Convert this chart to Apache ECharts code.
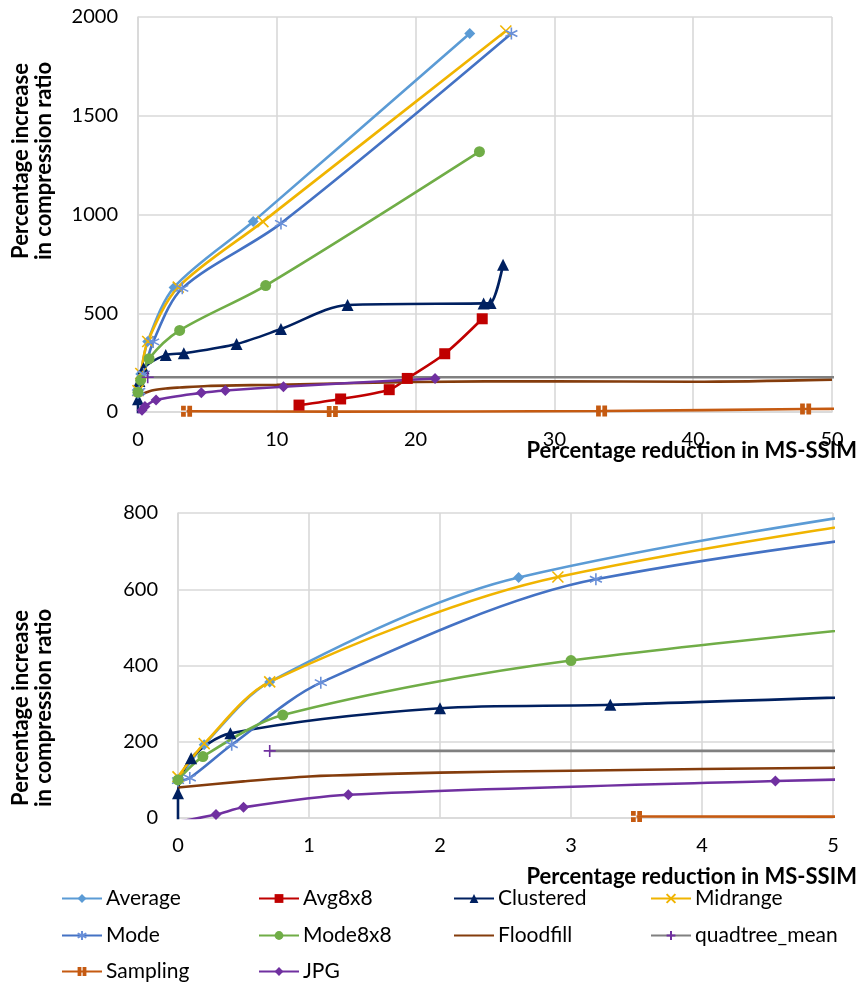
<!DOCTYPE html>
<html>
<head>
<meta charset="utf-8">
<script src="https://cdn.jsdelivr.net/npm/echarts@6/dist/echarts.min.js"></script>
<style>
  html, body { margin: 0; padding: 0; background: #fff; }
  #chart { width: 859px; height: 986px; }
</style>
</head>
<body>
<div id="chart"></div>
<script>
// ---- Data ----
const seriesNames = ['Average', 'Avg8x8', 'Clustered', 'Midrange', 'Mode', 'Mode8x8', 'Floodfill', 'quadtree_mean', 'Sampling', 'JPG'];

const averageX   = [0, 0.2, 0.7, 2.6, 8.3, 23.9];
const averageY   = [100, 192, 357, 631, 964, 1916];
const avg8x8X    = [11.6, 14.6, 18.1, 19.4, 22.1, 24.8];
const avg8x8Y    = [35, 66, 113, 170, 295, 472];
const clusteredX = [0, 0, 0.1, 0.4, 2.0, 3.3, 7.1, 10.3, 15.1, 24.9, 25.4, 26.3];
const clusteredY = [-40, 65, 157, 222, 288, 297, 344, 420, 542, 550, 552, 745];
const midrangeX  = [0, 0.2, 0.7, 2.9, 9.0, 26.5];
const midrangeY  = [108, 195, 357, 632, 964, 1929];
const modeX      = [0, 0.09, 0.41, 1.09, 3.19, 10.3, 26.9];
const modeY      = [98, 105, 192, 355, 626, 955, 1916];
const mode8x8X   = [0, 0.19, 0.8, 3.0, 9.2, 24.6];
const mode8x8Y   = [100, 161, 270, 413, 640, 1318];
const floodfillX = [0, 0.5, 1, 2, 3, 5, 10, 20, 30, 40, 50];
const floodfillY = [80, 96, 109, 119, 124, 132, 138, 152, 156, 153, 164];
const quadtreeX  = [0.7, 52];
const quadtreeY  = [176, 176];
const samplingX  = [3.5, 14.0, 33.4, 48.1, 52];
const samplingY  = [4, 2, 5, 15, 17];
const jpgX       = [0, 0.29, 0.5, 1.3, 4.56, 6.29, 10.48, 21.4];
const jpgY       = [-10, 9, 28, 61, 97, 109, 128, 170];

const topXTicks = { min: 0, max: 50, interval: 10 };
const topYTicks = { min: 0, max: 2000, interval: 500 };
const botXTicks = { min: 0, max: 5, interval: 1 };
const botYTicks = { min: 0, max: 800, interval: 200 };

const xTitle = 'Percentage reduction in MS-SSIM';
const yTitle = 'Percentage increase\nin compression ratio';

// ---- Styling ----
const FONT = 'Lato';
const zip = (xs, ys) => xs.map((x, i) => [x, ys[i]]);

const P_X = 'path://M0,0L10,10M10,0L0,10';
const P_STAR = 'path://M5,0L5,10M0.7,2.5L9.3,7.5M0.7,7.5L9.3,2.5';
const P_PLUS = 'path://M5,0L5,10M0,5L10,5';
const P_SAMP = 'path://M0,0h4.3v4.3h-4.3zM5.7,0h4.3v4.3h-4.3zM0,5.7h4.3v4.3h-4.3zM5.7,5.7h4.3v4.3h-4.3z';

const defs = [
  { name: 'Average', xs: averageX, ys: averageY, color: '#5B9BD5', symbol: 'diamond', size: 11 },
  { name: 'Avg8x8', xs: avg8x8X, ys: avg8x8Y, color: '#C00000', symbol: 'rect', size: 11 },
  { name: 'Clustered', xs: clusteredX, ys: clusteredY, color: '#002060', symbol: 'triangle', size: 12 },
  { name: 'Midrange', xs: midrangeX, ys: midrangeY, color: '#F0B400', symbol: P_X, size: 11, stroke: true },
  { name: 'Mode', xs: modeX, ys: modeY, color: '#4472C4', symbol: P_STAR, size: 12, stroke: true, mcolor: '#6A90D8' },
  { name: 'Mode8x8', xs: mode8x8X, ys: mode8x8Y, color: '#70AD47', symbol: 'circle', size: 11 },
  { name: 'Floodfill', xs: floodfillX, ys: floodfillY, color: '#843C0C', symbol: 'none', size: 0 },
  { name: 'quadtree_mean', xs: quadtreeX, ys: quadtreeY, color: '#808080', symbol: P_PLUS, size: 12, stroke: true, mcolor: '#7030A0', smooth: false },
  { name: 'Sampling', xs: samplingX, ys: samplingY, color: '#C55A11', symbol: P_SAMP, size: 11 },
  { name: 'JPG', xs: jpgX, ys: jpgY, color: '#7030A0', symbol: 'diamond', size: 11 }
];

function makeSeries(d, axisIndex) {
  const mc = d.mcolor || d.color;
  return {
    name: d.name,
    type: 'line',
    xAxisIndex: axisIndex,
    yAxisIndex: axisIndex,
    data: zip(d.xs, d.ys),
    smooth: d.smooth === false ? false : 0.3,
    clip: true,
    symbol: d.symbol,
    symbolSize: d.size,
    showSymbol: d.symbol !== 'none',
    lineStyle: { color: d.color, width: 2.6 },
    itemStyle: d.stroke
      ? { color: mc, borderColor: mc, borderWidth: 1.6 }
      : { color: mc, borderWidth: 0 },
    emphasis: { disabled: true },
    animation: false
  };
}

const series = [];
defs.forEach(d => series.push(makeSeries(d, 0)));
defs.forEach(d => series.push(makeSeries(d, 1)));

const gridLine = { show: true, lineStyle: { color: '#D9D9D9', width: 1.6 } };
const axisLbl = { color: '#000', fontFamily: FONT, fontSize: 20, formatter: v => String(v) };

function xAxis(ticks, gridIndex) {
  return {
    type: 'value', gridIndex, min: ticks.min, max: ticks.max, interval: ticks.interval,
    axisLine: { show: true, onZero: false, lineStyle: { color: '#D9D9D9', width: 1.6 } },
    axisTick: { show: false },
    splitLine: gridLine,
    axisLabel: Object.assign({ margin: 18 }, axisLbl)
  };
}
function yAxis(ticks, gridIndex) {
  return {
    type: 'value', gridIndex, min: ticks.min, max: ticks.max, interval: ticks.interval,
    axisLine: { show: true, onZero: false, lineStyle: { color: '#D9D9D9', width: 1.6 } },
    axisTick: { show: false },
    splitLine: gridLine,
    axisLabel: Object.assign({ margin: 20 }, axisLbl)
  };
}

// legend: one component per item, placed on a 4-column grid
const legendCols = [61, 258, 453, 650];
const legendRows = [888, 925, 961];
const legends = seriesNames.map((n, i) => ({
  data: [n === 'Floodfill' ? { name: n, itemStyle: { opacity: 0 } } : n],
  left: legendCols[i % 4],
  top: legendRows[Math.floor(i / 4)],
  padding: 0,
  itemWidth: 40,
  itemHeight: 11,
  itemGap: 0,
  selectedMode: false,
  textStyle: { fontFamily: FONT, fontSize: 21, color: '#000', padding: [0, 0, 0, -1] }
}));

const titleFont = 'bold 22px ' + FONT;
const option = {
  animation: false,
  backgroundColor: '#fff',
  textStyle: { fontFamily: FONT },
  grid: [
    { left: 138, width: 694, top: 17, height: 395 },
    { left: 178, width: 655, top: 513, height: 305 }
  ],
  xAxis: [xAxis(topXTicks, 0), xAxis(botXTicks, 1)],
  yAxis: [yAxis(topYTicks, 0), yAxis(botYTicks, 1)],
  legend: legends,
  series: series,
  graphic: [
    { type: 'text', x: 857, y: 451, style: { text: xTitle, font: titleFont, fill: '#000', textAlign: 'right', textVerticalAlign: 'middle' } },
    { type: 'text', x: 857, y: 877, style: { text: xTitle, font: titleFont, fill: '#000', textAlign: 'right', textVerticalAlign: 'middle' } },
    { type: 'text', x: 32, y: 161, rotation: Math.PI / 2, style: { text: yTitle, font: titleFont, lineHeight: 23, fill: '#000', textAlign: 'center', textVerticalAlign: 'middle' } },
    { type: 'text', x: 32, y: 708, rotation: Math.PI / 2, style: { text: yTitle, font: titleFont, lineHeight: 23, fill: '#000', textAlign: 'center', textVerticalAlign: 'middle' } }
  ]
};

const chart = echarts.init(document.getElementById('chart'), null, { renderer: 'canvas' });
chart.setOption(option);
</script>
</body>
</html>
